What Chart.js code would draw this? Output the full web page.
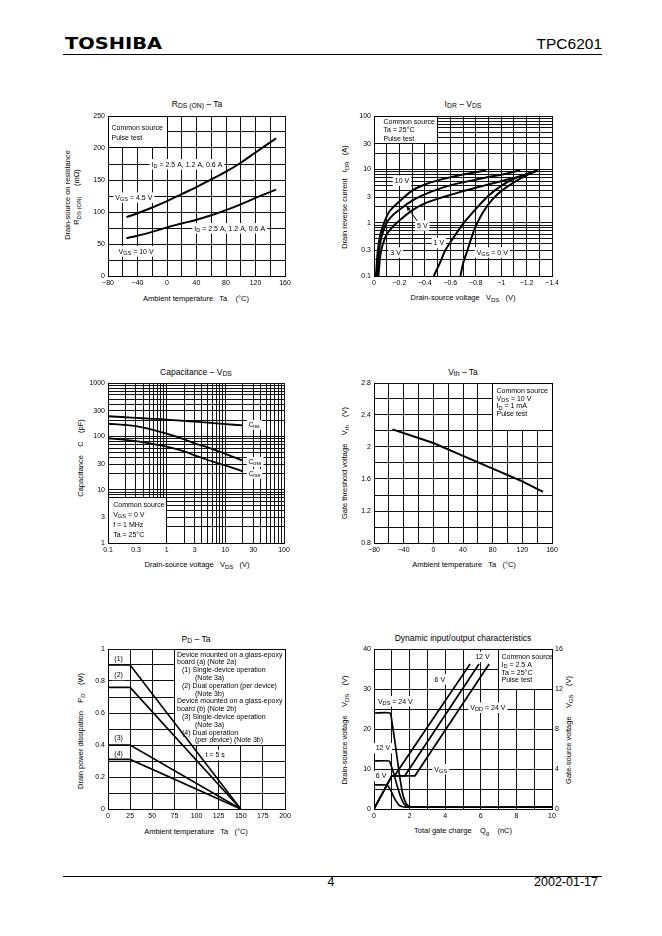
<!DOCTYPE html>
<html><head><meta charset="utf-8">
<script src="https://cdn.jsdelivr.net/npm/chart.js@4.4.1/dist/chart.umd.min.js"></script>
<style>
html,body{margin:0;padding:0;background:#fff;}
#page{position:relative;width:662px;height:936px;overflow:hidden;background:#fff;font-family:"Liberation Sans",Arial,sans-serif;color:#000;}
.t{position:absolute;white-space:pre;line-height:1;transform:translate(-50%,-50%);}
.r{position:absolute;white-space:pre;line-height:1;transform:translate(-50%,-50%) rotate(-90deg);}
sub{font-size:80%;vertical-align:-0.25em;line-height:0;}
canvas{position:absolute;}
.hl{position:absolute;height:1px;background:#000;}
</style></head>
<body><div id="page">
<div id="logo" style="position:absolute;left:65px;top:43.5px;font-family:'DejaVu Sans';font-weight:bold;font-size:16px;line-height:1;transform-origin:left center;transform:translateY(-50%);white-space:pre">TOSHIBA</div>
<div style="position:absolute;right:60px;top:43.5px;font-size:15.5px;line-height:1;transform:translateY(-50%)">TPC6201</div>
<div class="hl" style="left:63px;top:54px;width:539px"></div>
<div class="hl" style="left:63px;top:875.5px;width:539px"></div>
<div class="t" style="left:331px;top:882px;font-size:12.5px">4</div>
<div style="position:absolute;right:64px;top:882px;font-size:12.5px;line-height:1;transform:translateY(-50%)">2002-01-17</div>

<div class="t" style="left:197px;top:104px;font-size:8.5px">R<sub>DS (ON)</sub> – Ta</div>
<div class="r" style="left:68px;top:195px;font-size:7.5px">Drain-source on resistance</div>
<div class="r" style="left:77px;top:197px;font-size:7.5px">R<sub>DS (ON)</sub>     (mΩ)</div>
<div class="t" style="left:196px;top:299px;font-size:7.5px">Ambient temperature   Ta    (°C)</div>

<div class="t" style="left:463px;top:104px;font-size:8.5px">I<sub>DR</sub> – V<sub>DS</sub></div>
<div class="r" style="left:345px;top:197px;font-size:7.5px">Drain reverse current   I<sub>DR</sub>   (A)</div>
<div class="t" style="left:463px;top:298px;font-size:7.5px">Drain-source voltage   V<sub>DS</sub>   (V)</div>

<div class="t" style="left:196px;top:372px;font-size:8.5px">Capacitance – V<sub>DS</sub></div>
<div class="r" style="left:81px;top:458px;font-size:7.5px">Capacitance    C    (pF)</div>
<div class="t" style="left:197px;top:565px;font-size:7.5px">Drain-source voltage   V<sub>DS</sub>   (V)</div>

<div class="t" style="left:463px;top:372px;font-size:8.5px">V<sub>th</sub> – Ta</div>
<div class="r" style="left:345px;top:463px;font-size:7.5px">Gate threshold voltage    V<sub>th</sub>    (V)</div>
<div class="t" style="left:464px;top:565px;font-size:7.5px">Ambient temperature   Ta   (°C)</div>

<div class="t" style="left:196px;top:639px;font-size:8.5px">P<sub>D</sub> – Ta</div>
<div class="r" style="left:81px;top:731px;font-size:7.5px">Drain power dissipation    P<sub>D</sub>    (W)</div>
<div class="t" style="left:196px;top:832px;font-size:7.5px">Ambient temperature   Ta   (°C)</div>

<div class="t" style="left:463px;top:638px;font-size:8.5px">Dynamic input/output characteristics</div>
<div class="r" style="left:345px;top:730px;font-size:7.5px">Drain-source voltage    V<sub>DS</sub>    (V)</div>
<div class="r" style="left:569px;top:730px;font-size:7.5px">Gate-source voltage    V<sub>GS</sub>    (V)</div>
<div class="t" style="left:463px;top:831px;font-size:7.5px">Total gate charge    Q<sub>g</sub>    (nC)</div>
</div>
<script>
// ================= DATA =================
// Chart 1: RDS(ON) - Ta
const c1Ta   = [-55, -40, -20, 0, 20, 40, 60, 80, 100, 120, 148];
const c1R45  = [92, 98, 107, 117, 128, 139, 151, 163, 177, 193, 215];
const c1R10  = [59, 63, 69, 76, 82, 88, 95, 103, 112, 122, 135];
const c1XLabels = [-80, -40, 0, 40, 80, 120, 160];
const c1YLabels = [0, 50, 100, 150, 200, 250];

// Chart 2: IDR - VDS
const c2Vgs10X = [-0.015, -0.03, -0.05, -0.08, -0.12, -0.2, -0.3, -0.4, -0.5, -0.6, -0.7, -0.8, -0.88];
const c2Vgs10Y = [0.1, 0.3, 0.6, 1.0, 1.6, 2.5, 4.0, 5.2, 6.2, 7.1, 8.0, 8.8, 9.6];
const c2Vgs5X  = [-0.025, -0.04, -0.06, -0.1, -0.15, -0.2, -0.3, -0.4, -0.5, -0.6, -0.7, -0.8, -0.9, -1.0, -1.15];
const c2Vgs5Y  = [0.1, 0.3, 0.55, 1.0, 1.4, 1.75, 2.6, 3.4, 4.2, 5.0, 5.7, 6.4, 7.2, 7.9, 9.6];
const c2Vgs3X  = [-0.035, -0.05, -0.07, -0.1, -0.15, -0.2, -0.3, -0.4, -0.5, -0.6, -0.7, -0.8, -0.9, -1.0, -1.1, -1.2, -1.29];
const c2Vgs3Y  = [0.1, 0.25, 0.4, 0.6, 0.85, 1.1, 1.7, 2.3, 2.8, 3.3, 3.9, 4.5, 5.2, 6.0, 6.9, 8.0, 9.6];
const c2Vgs1X  = [-0.47, -0.52, -0.56, -0.62, -0.7, -0.8, -0.9, -1.0, -1.1, -1.2, -1.29];
const c2Vgs1Y  = [0.1, 0.18, 0.3, 0.5, 0.95, 1.8, 3.2, 4.9, 6.6, 8.2, 9.6];
const c2Vgs0X  = [-0.68, -0.7, -0.73, -0.77, -0.8, -0.86, -0.93, -1.0, -1.1, -1.2, -1.29];
const c2Vgs0Y  = [0.1, 0.17, 0.28, 0.55, 0.85, 1.6, 2.7, 3.9, 5.7, 7.7, 9.6];
const c2XLabels = [0, -0.2, -0.4, -0.6, -0.8, -1, -1.2, -1.4];
const c2YLabels = [0.1, 0.3, 1, 3, 10, 30, 100];

// Chart 3: Capacitance - VDS
const c3Vds  = [0.1, 0.2, 0.3, 0.5, 1, 2, 3, 5, 10, 20];
const c3Ciss = [238, 228, 222, 215, 206, 195, 188, 180, 170, 160];
const c3Coss = [172, 163, 155, 138, 112, 88, 74, 62, 47, 35];
const c3Crss = [92, 86, 81, 74, 64, 52, 44, 36, 28.5, 22];
const c3XLabels = [0.1, 0.3, 1, 3, 10, 30, 100];
const c3YLabels = [1, 3, 10, 30, 100, 300, 1000];

// Chart 4: Vth - Ta
const c4Ta  = [-55, 0, 40, 80, 120, 148];
const c4Vth = [2.22, 2.05, 1.89, 1.73, 1.57, 1.44];
const c4XLabels = [-80, -40, 0, 40, 80, 120, 160];
const c4YLabels = [0.8, 1.2, 1.6, 2, 2.4, 2.8];

// Chart 5: PD - Ta
const c5Ta = [0, 25, 150];
const c5Pd1 = [0.9, 0.9, 0];
const c5Pd2 = [0.76, 0.76, 0];
const c5Pd3 = [0.4, 0.4, 0];
const c5Pd4 = [0.31, 0.31, 0];
const c5XLabels = [0, 25, 50, 75, 100, 125, 150, 175, 200];
const c5YLabels = [0, 0.2, 0.4, 0.6, 0.8, 1];

// Chart 6: Dynamic input/output characteristics
const c6Qg24  = [0, 0.9, 1.0, 1.2, 1.4, 1.6, 1.8, 2.0, 2.2, 10];
const c6Vds24 = [24, 24, 22, 16, 9.5, 4, 1.4, 0.6, 0.45, 0.45];
const c6Qg12  = [0, 0.85, 0.95, 1.1, 1.3, 1.5, 1.7, 1.9, 2.1, 10];
const c6Vds12 = [12, 12, 11, 9, 5.8, 3, 1.2, 0.55, 0.45, 0.45];
const c6Qg6   = [0, 0.7, 0.8, 0.95, 1.1, 1.25, 1.4, 1.6, 1.8, 10];
const c6Vds6  = [6, 6, 5.7, 4.6, 3.1, 1.9, 1.0, 0.55, 0.45, 0.45];
const c6QgG6  = [0, 1.0, 1.15, 5.4];
const c6QgG12 = [0, 1.0, 1.73, 5.9];
const c6QgG24 = [0, 1.0, 2.3, 6.47];
const c6Vgs   = [0, 3.32, 3.32, 14.5];
const c6XLabels = [0, 2, 4, 6, 8, 10];
const c6YLabels = [0, 10, 20, 30, 40];
const c6Y2Labels = [0, 4, 8, 12, 16];

// ================= HELPERS =================
const FONT = '"Liberation Sans", Arial, sans-serif';
Chart.defaults.font.family = FONT;
Chart.defaults.font.size = 7;
Chart.defaults.color = '#000';
const page = document.getElementById('page');

function fmt(v){ const s = String(Math.abs(v)); return v < 0 ? '\u2212' + s : s; }
function isLab(labels, v){ return labels.some(l => Math.abs(l - v) < 1e-9 * Math.max(1, Math.abs(v))); }
const GRID = { color:'#111', lineWidth:1, drawTicks:false };
const BORDER = { color:'#000', width:1 };

function linAxis(min, max, step, labels, extra){
  const grid = []; const n = Math.round((max - min) / step);
  for (let i = 0; i <= n; i++) grid.push(+(min + i * step).toFixed(6));
  return Object.assign({
    type:'linear', min, max,
    afterBuildTicks: s => { s.ticks = grid.map(v => ({ value: v })); },
    ticks:{ autoSkip:false, maxRotation:0, padding:3, callback: v => isLab(labels, v) ? fmt(v) : '' },
    grid: Object.assign({}, GRID), border: BORDER
  }, extra || {});
}
function logAxis(min, max, labels, extra){
  const grid = [];
  for (let e = Math.round(Math.log10(min)); e < Math.round(Math.log10(max)); e++)
    for (let m = 1; m <= 9; m++) grid.push(parseFloat((m * Math.pow(10, e)).toPrecision(6)));
  grid.push(max);
  return Object.assign({
    type:'logarithmic', min, max,
    afterBuildTicks: s => { s.ticks = grid.map(v => ({ value: v })); },
    ticks:{ autoSkip:false, maxRotation:0, padding:3, callback: v => isLab(labels, v) ? fmt(v) : '' },
    grid: Object.assign({}, GRID), border: BORDER
  }, extra || {});
}
function ds(xs, ys, o){
  return Object.assign({ data: xs.map((x, i) => ({ x, y: ys[i] })), borderColor:'#000', borderWidth:2,
    pointRadius:0, fill:false, tension:0.4 }, o || {});
}

function parseRich(str){
  const out = []; const re = /_\{([^}]*)\}/g; let last = 0, m;
  while ((m = re.exec(str))) {
    if (m.index > last) out.push({ t: str.slice(last, m.index), sub:false });
    out.push({ t: m[1], sub:true }); last = re.lastIndex;
  }
  if (last < str.length) out.push({ t: str.slice(last), sub:false });
  return out;
}
function drawRich(ctx, str, x, y, size, align, bg){
  const segs = parseRich(str); let w = 0;
  segs.forEach(s => { ctx.font = (s.sub ? size * 0.8 : size) + 'px ' + FONT; s.w = ctx.measureText(s.t).width; w += s.w; });
  let x0 = align === 'center' ? x - w / 2 : (align === 'right' ? x - w : x);
  if (bg) { ctx.fillStyle = '#fff'; ctx.fillRect(x0 - 2, y - size * 0.7, w + 4, size * 1.5); }
  ctx.fillStyle = '#000'; ctx.textAlign = 'left'; ctx.textBaseline = 'alphabetic';
  const base = y + size * 0.36;
  segs.forEach(s => { ctx.font = (s.sub ? size * 0.8 : size) + 'px ' + FONT; ctx.fillText(s.t, x0, s.sub ? base + size * 0.22 : base); x0 += s.w; });
}
function arrow(ctx, x0, y0, x1, y1){
  ctx.beginPath(); ctx.moveTo(x0, y0); ctx.lineTo(x1, y1); ctx.lineWidth = 1; ctx.strokeStyle = '#000'; ctx.stroke();
  const a = Math.atan2(y1 - y0, x1 - x0), L = 5, w = 0.4;
  ctx.beginPath(); ctx.moveTo(x1, y1);
  ctx.lineTo(x1 - L * Math.cos(a - w), y1 - L * Math.sin(a - w));
  ctx.lineTo(x1 - L * Math.cos(a + w), y1 - L * Math.sin(a + w));
  ctx.closePath(); ctx.fillStyle = '#000'; ctx.fill();
}
const al = v => Math.round(v - 0.5) + 0.5;
const annotPlugin = {
  id:'annot',
  beforeDatasetsDraw(chart, args, o){
    const ctx = chart.ctx, xs = chart.scales.x, ys = chart.scales.y;
    ctx.save();
    (o.boxes || []).forEach(b => {
      let l = xs.getPixelForValue(b.x0), r = xs.getPixelForValue(b.x1), t = ys.getPixelForValue(b.y1), bt = ys.getPixelForValue(b.y0);
      if (l > r) [l, r] = [r, l]; if (t > bt) [t, bt] = [bt, t];
      l = al(l); r = al(r); t = al(t); bt = al(bt);
      ctx.fillStyle = '#fff'; ctx.fillRect(l, t, r - l, bt - t);
      ctx.strokeStyle = '#000'; ctx.lineWidth = 1; ctx.strokeRect(l, t, r - l, bt - t);
      b.lines.forEach((ln, i) => {
        const txt = typeof ln === 'string' ? ln : ln.t; const dx = (typeof ln === 'object' && ln.dx != null) ? ln.dx : b.dx;
        drawRich(ctx, txt, l + dx, t + b.dy + i * b.lh, 7, 'left', false);
      });
    });
    (o.labels || []).forEach(lb => drawRich(ctx, lb.t, xs.getPixelForValue(lb.x), ys.getPixelForValue(lb.y), lb.size || 7, lb.align || 'center', lb.bg !== false));
    (o.arrows || []).forEach(a => arrow(ctx, xs.getPixelForValue(a.x0), ys.getPixelForValue(a.y0), xs.getPixelForValue(a.x1), ys.getPixelForValue(a.y1)));
    ctx.restore();
  }
};

function mkChart(L, T, W, H, datasets, scales, annot, rightW){
  const padL = 40, padT = 10, padB = 22, padR = rightW || 15;
  const cv = document.createElement('canvas');
  cv.width = padL + W + padR; cv.height = padT + H + padB;
  cv.style.left = (L - padL) + 'px'; cv.style.top = (T - padT) + 'px';
  cv.style.width = cv.width + 'px'; cv.style.height = cv.height + 'px';
  page.appendChild(cv);
  scales.x.afterFit = s => { s.height = padB; };
  scales.y.afterFit = s => { s.width = padL; };
  if (scales.y2) scales.y2.afterFit = s => { s.width = rightW; };
  return new Chart(cv, {
    type:'line', data:{ datasets },
    options:{ responsive:false, animation:false, devicePixelRatio:1,
      layout:{ padding:{ left:0, top:padT, right: rightW ? 0 : padR, bottom:0 } },
      plugins:{ legend:{ display:false }, tooltip:{ enabled:false }, annot },
      scales },
    plugins:[annotPlugin]
  });
}

// ================= CHARTS =================
const colL = 108, colW = 177, col2L = 374, col2W = 178, H = 160;

// Chart 1
mkChart(colL, 116, colW, H,
  [ds(c1Ta, c1R45), ds(c1Ta, c1R10)],
  { x: linAxis(-80, 160, 20, c1XLabels), y: linAxis(0, 250, 25, c1YLabels) },
  { boxes:[{ x0:-80, x1:0, y0:200, y1:250, dx:3, dy:11.3, lh:10, lines:['Common source', 'Pulse test'] }],
    labels:[{ x:27, y:175, t:'I_{D} = 2.5 A, 1.2 A, 0.6 A' }, { x:-45, y:123, t:'V_{GS} = 4.5 V' },
            { x:85, y:75, t:'I_{D} = 2.5 A, 1.2 A, 0.6 A' }, { x:-42, y:39, t:'V_{GS} = 10 V' }] });

// Chart 2
mkChart(col2L, 116, col2W, H,
  [ds(c2Vgs10X, c2Vgs10Y, { tension:0.3 }), ds(c2Vgs5X, c2Vgs5Y, { tension:0.3 }), ds(c2Vgs3X, c2Vgs3Y, { tension:0.3 }),
   ds(c2Vgs1X, c2Vgs1Y, { tension:0.3 }), ds(c2Vgs0X, c2Vgs0Y, { tension:0.3 })],
  { x: linAxis(-1.4, 0, 0.1, c2XLabels, { reverse:true }), y: logAxis(0.1, 100, c2YLabels) },
  { boxes:[{ x0:0, x1:-0.5, y0:30, y1:100, dx:9, dy:4.5, lh:8.8, lines:['Common source', 'Ta = 25°C', 'Pulse test'] }],
    labels:[{ x:-0.22, y:6.2, t:'10 V' }, { x:-0.38, y:0.9, t:'5 V' }, { x:-0.17, y:0.28, t:'3 V' },
            { x:-0.51, y:0.42, t:'1 V' }, { x:-0.93, y:0.28, t:'V_{GS} = 0 V' }],
    arrows:[{ x0:-0.34, y0:1.08, x1:-0.255, y1:2.05 }] });

// Chart 3
mkChart(colL, 383, colW - 1, H,
  [ds(c3Vds, c3Ciss, { borderWidth:1.8 }), ds(c3Vds, c3Coss, { borderWidth:1.8 }), ds(c3Vds, c3Crss, { borderWidth:1.8 })],
  { x: logAxis(0.1, 100, c3XLabels), y: logAxis(1, 1000, c3YLabels) },
  { boxes:[{ x0:0.1, x1:1, y0:1, y1:7, dx:4.7, dy:6.8, lh:10, lines:['Common source', 'V_{GS} = 0 V', 'f = 1 MHz', 'Ta = 25°C'] }],
    labels:[{ x:25, y:166, t:'C_{iss}', align:'left', size:6.5 }, { x:25, y:33.7, t:'C_{oss}', align:'left', size:6.5 },
            { x:25, y:20, t:'C_{rss}', align:'left', size:6.5 }] });

// Chart 4
mkChart(col2L, 383, col2W, H,
  [ds(c4Ta, c4Vth, { tension:0 })],
  { x: linAxis(-80, 160, 20, c4XLabels), y: linAxis(0.8, 2.8, 0.2, c4YLabels) },
  { boxes:[{ x0:80, x1:160, y0:2.2, y1:2.8, dx:4, dy:7, lh:7.7, lines:['Common source', 'V_{DS} = 10 V', 'I_{D} = 1 mA', 'Pulse test'] }] });

// Chart 5
mkChart(colL, 649, colW, H,
  [ds(c5Ta, c5Pd1, { tension:0, borderWidth:1.6 }), ds(c5Ta, c5Pd2, { tension:0, borderWidth:1.6 }),
   ds(c5Ta, c5Pd3, { tension:0, borderWidth:1.6 }), ds(c5Ta, c5Pd4, { tension:0, borderWidth:1.6 })],
  { x: linAxis(0, 200, 25, c5XLabels), y: linAxis(0, 1, 0.1, c5YLabels) },
  { boxes:[{ x0:75, x1:200, y0:0.4, y1:1, dx:2.5, dy:4.5, lh:7.8, lines:[
      'Device mounted on a glass-epoxy', 'board (a) (Note 2a)',
      { t:'(1) Single-device operation', dx:7.5 }, { t:'(Note 3a)', dx:20.5 },
      { t:'(2) Dual operation (per device)', dx:7.5 }, { t:'(Note 3b)', dx:20.5 },
      'Device mounted on a glass-epoxy', 'board (b) (Note 2b)',
      { t:'(3) Single-device operation', dx:7.5 }, { t:'(Note 3a)', dx:20.5 },
      { t:'(4) Dual operation', dx:7.5 }, { t:'(per device) (Note 3b)', dx:20.5 } ] }],
    labels:[{ x:12, y:0.94, t:'(1)' }, { x:12, y:0.84, t:'(2)' }, { x:12, y:0.447, t:'(3)' }, { x:12, y:0.347, t:'(4)' },
            { x:121, y:0.34, t:'t = 5 s' }] });

// Chart 6
mkChart(col2L, 649, col2W, H,
  [ds(c6Qg24, c6Vds24, { tension:0.2, borderWidth:1.7 }), ds(c6Qg12, c6Vds12, { tension:0.2, borderWidth:1.7 }),
   ds(c6Qg6, c6Vds6, { tension:0.2, borderWidth:1.7 }),
   ds(c6QgG6, c6Vgs, { tension:0, borderWidth:1.7, yAxisID:'y2' }), ds(c6QgG12, c6Vgs, { tension:0, borderWidth:1.7, yAxisID:'y2' }),
   ds(c6QgG24, c6Vgs, { tension:0, borderWidth:1.7, yAxisID:'y2' })],
  { x: linAxis(0, 10, 1, c6XLabels), y: linAxis(0, 40, 5, c6YLabels),
    y2: linAxis(0, 16, 4, c6Y2Labels, { position:'right', grid:{ drawOnChartArea:false, drawTicks:false } }) },
  { boxes:[{ x0:7, x1:10, y0:30, y1:40, dx:3, dy:7.3, lh:7.6, lines:['Common source', 'I_{D} = 2.5 A', 'Ta = 25°C', 'Pulse test'] }],
    labels:[{ x:6.09, y:38.1, t:'12 V' }, { x:3.7, y:32.5, t:'6 V' }, { x:6.4, y:25.4, t:'V_{DD} = 24 V' },
            { x:1.2, y:27, t:'V_{DS} = 24 V' }, { x:0.5, y:15.3, t:'12 V' }, { x:0.4, y:8.3, t:'6 V' },
            { x:3.75, y:10, t:'V_{GS}' }] }, 22);

// logo width
const logo = document.getElementById('logo');
const lw = logo.getBoundingClientRect().width;
logo.style.transform = 'translateY(-50%) scaleX(' + (97 / lw) + ')';
</script>
</body></html>
